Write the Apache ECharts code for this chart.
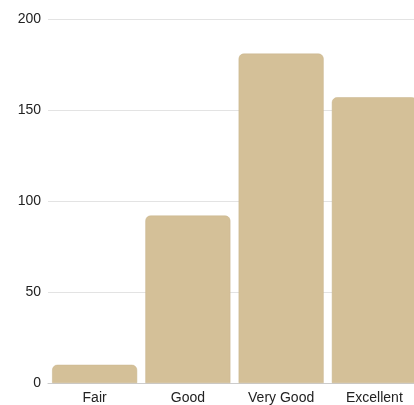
<!DOCTYPE html>
<html><head><meta charset="utf-8">
<script src="https://cdn.jsdelivr.net/npm/echarts@6/dist/echarts.min.js"></script>
<style>html,body{margin:0;padding:0;background:#fff;overflow:hidden}#c{width:421px;height:405px}</style>
</head><body><div id="c"></div>
<script>
const categories = ["Fair", "Good", "Very Good", "Excellent"];
const counts = [10, 92, 181, 157];
const yTicks = [0, 50, 100, 150, 200];

const chart = echarts.init(document.getElementById('c'), null, {renderer: 'canvas'});
chart.setOption({
  animation: false,
  grid: {left: 48, right: 0, top: 19, bottom: 22},
  xAxis: {
    type: 'category', data: categories,
    axisTick: {show: false},
    axisLine: {lineStyle: {color: '#cccccc'}},
    axisLabel: {color: '#222', fontSize: 14, fontFamily: 'Liberation Sans', margin: 8}
  },
  yAxis: {
    type: 'value', min: yTicks[0], max: yTicks[yTicks.length - 1], interval: 50,
    axisLine: {show: false}, axisTick: {show: false},
    splitLine: {lineStyle: {color: '#e3e3e3'}},
    axisLabel: {color: '#222', fontSize: 14, fontFamily: 'Liberation Sans', margin: 7}
  },
  series: [{
    type: 'bar', data: counts, barWidth: 85,
    itemStyle: {color: '#d4c098', borderRadius: [5, 5, 0, 0], borderColor: '#c9b48c', borderWidth: 0.5}
  }]
});
</script></body></html>
